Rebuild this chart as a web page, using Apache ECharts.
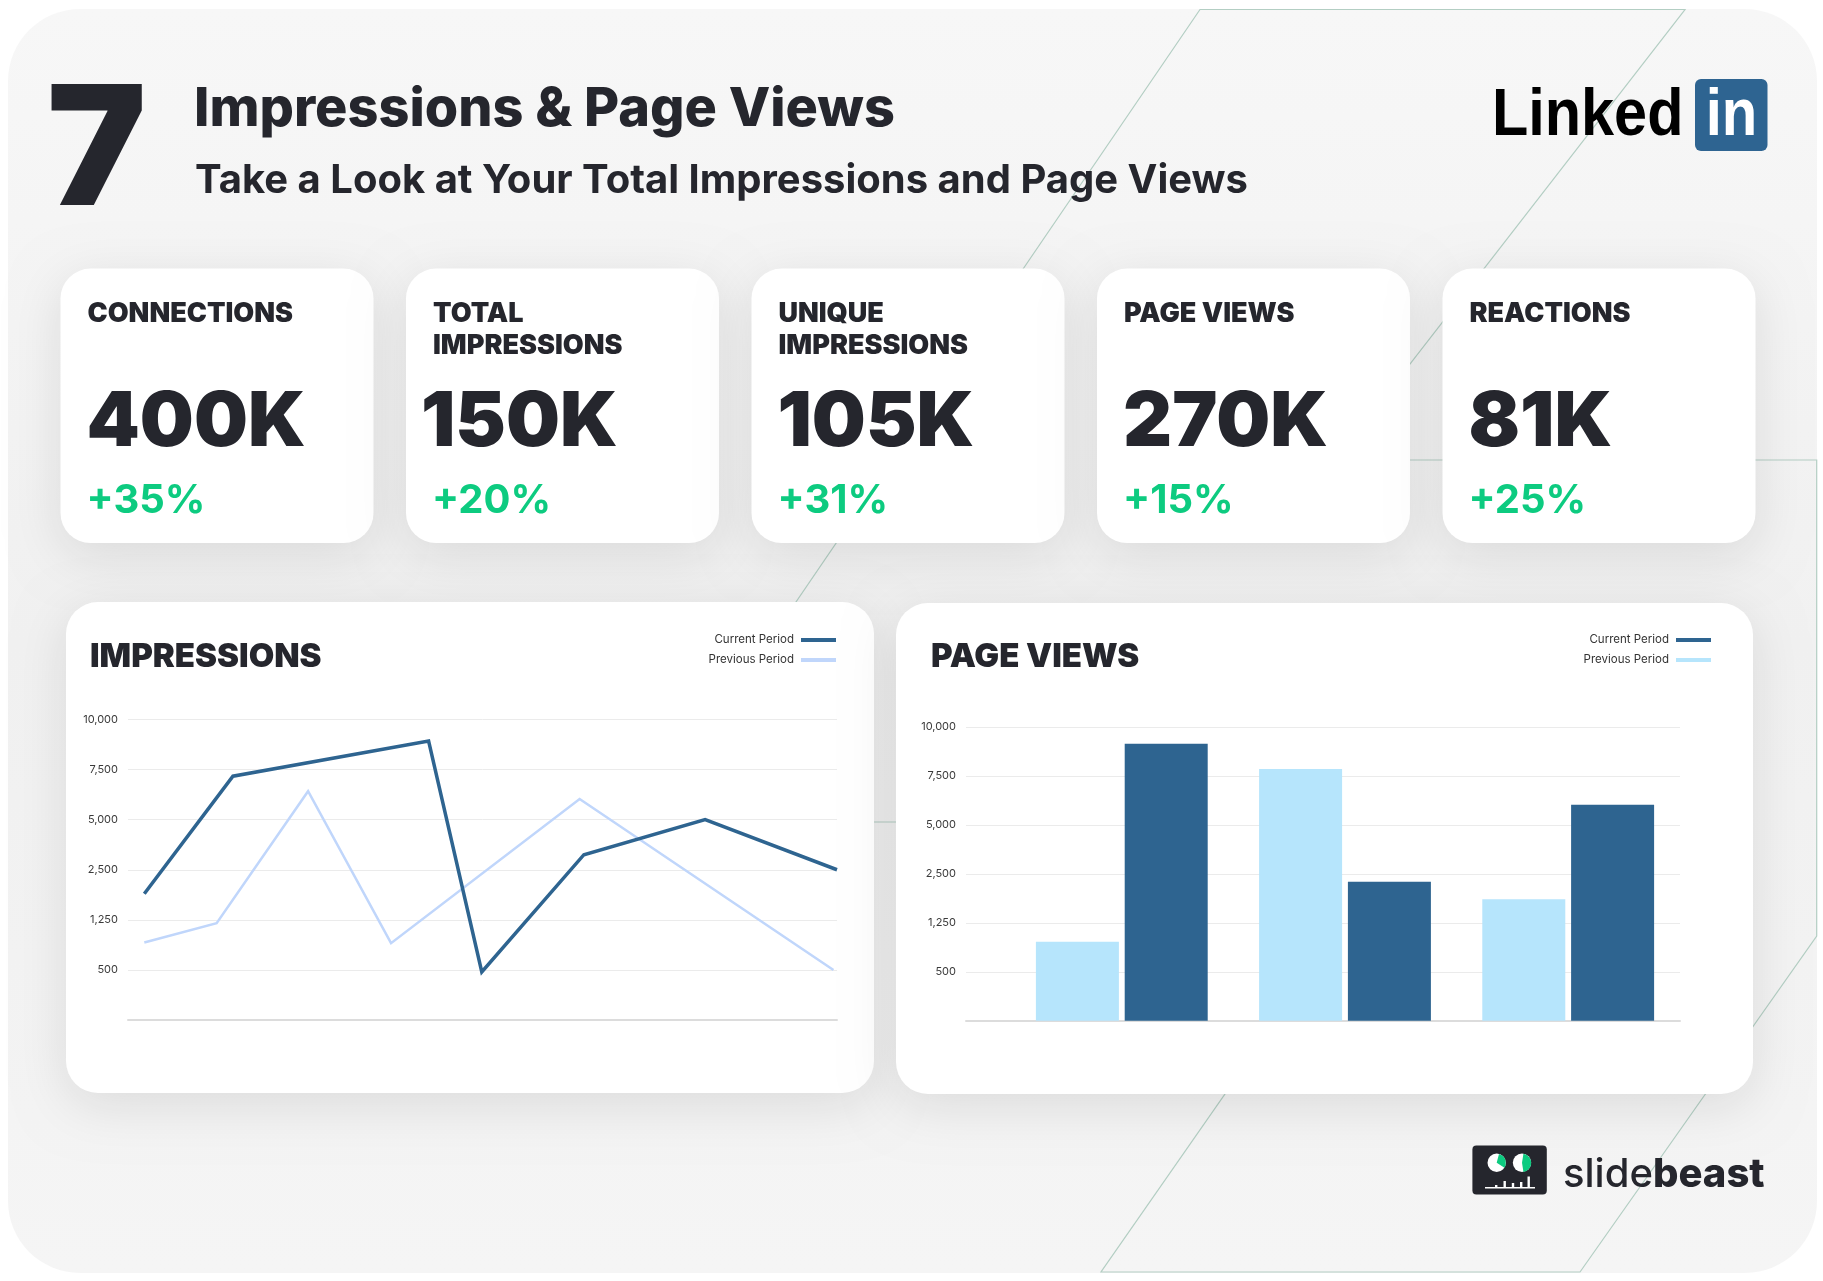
<!DOCTYPE html>
<html><head><meta charset="utf-8">
<script src="https://cdn.jsdelivr.net/npm/echarts@6/dist/echarts.min.js"></script>
<style>html,body{margin:0;padding:0;background:#ffffff}#c{width:1823px;height:1281px}</style>
</head><body><div id="c"></div>
<script>
// ---------- DATA ----------
const kpiLabels = ['CONNECTIONS', 'TOTAL\nIMPRESSIONS', 'UNIQUE\nIMPRESSIONS', 'PAGE VIEWS', 'REACTIONS'];
const kpiValues = ['400K', '150K', '105K', '270K', '81K'];
const kpiChanges = ['+35%', '+20%', '+31%', '+15%', '+25%'];

// y axis tick values (evenly spaced on the chart although not linear)
const yTickValues = [0, 500, 1250, 2500, 5000, 7500, 10000];
const yTickLabels = ['', '500', '1,250', '2,500', '5,000', '7,500', '10,000'];

// Impressions: position within the period (0-100) and value
const impCurrentX = [2.3, 14.8, 42.4, 49.9, 64.3, 81.4, 100];
const impCurrent = [1900, 7170, 8920, 480, 3250, 5000, 2500];
const impPreviousX = [2.3, 12.5, 25.4, 37.1, 63.7, 99.5];
const impPrevious = [910, 1200, 6420, 900, 6030, 500];

// Page views
const pvCategories = ['Period 1', 'Period 2', 'Period 3'];
const pvPrevious = [960, 7860, 1850];
const pvCurrent = [9140, 2300, 6030];

const seriesNames = ['Current Period', 'Previous Period'];

// ---------- LAYOUT ----------
const VALUE_INDENT = [26, 15, 26, 26, 26];

// ---------- HELPERS ----------
function toPos(v) {
  for (let i = 0; i < yTickValues.length - 1; i++) {
    const a = yTickValues[i], b = yTickValues[i + 1];
    if (v <= b) return i + (v - a) / (b - a);
  }
  return yTickValues.length - 1;
}
const FONT = 'Inter, "Noto Sans", sans-serif';
const DARK = '#25262d';
const GREEN = '#0dcb80';
const BLUE = '#2e6490';
const LIGHT_LINE = '#c0d6fb';
const LIGHT_BAR = '#b6e5fc';

// y is the intended cap-centre; shift to compensate canvas 'middle' baseline
function txt(text, x, y, size, weight, fill, extra) {
  return {
    type: 'text', x: x, y: y + 0.065 * size, z: 20,
    style: Object.assign({
      text: text, fill: fill, fontSize: size, fontWeight: weight, fontFamily: FONT,
      align: 'left', verticalAlign: 'middle', textAlign: 'left', textVerticalAlign: 'middle'
    }, extra || {})
  };
}

const g = [];
// page panel
g.push({type: 'rect', z: -30, shape: {x: 8, y: 9, width: 1809, height: 1264, r: 72},
  style: {fill: {type: 'linear', x: 0, y: 0, x2: 0, y2: 1, colorStops: [
    {offset: 0, color: '#f7f7f7'}, {offset: 0.5, color: '#f1f1f1'}, {offset: 1, color: '#f5f5f5'}]}}});
// decorative outline
g.push({type: 'polygon', z: -25, shape: {points: [
  [1200, 9.5], [1685, 9.5], [1335.6, 460], [1816.7, 460], [1816.7, 936], [1580, 1272],
  [1101, 1272], [1414.5, 822], [646, 822]]},
  style: {fill: 'none', stroke: '#b3cec3', lineWidth: 1.2}});

// KPI cards
for (let i = 0; i < kpiValues.length; i++) {
  const x0 = 60.5 + i * 345.5;
  g.push({type: 'rect', z: -20, shape: {x: x0, y: 268.6, width: 313, height: 274.5, r: 30},
    style: {fill: '#ffffff', shadowBlur: 50, shadowColor: 'rgba(0,0,0,0.10)', shadowOffsetY: 12}});
  g.push({type: 'text', x: x0 + 27, y: 298.5, z: 20, style: {text: kpiLabels[i], fill: DARK, fontSize: 27,
    fontWeight: 900, fontFamily: FONT, lineHeight: 31.4, align: 'left', verticalAlign: 'top',
    textAlign: 'left', textVerticalAlign: 'top'}});
  g.push(txt(kpiValues[i], x0 + VALUE_INDENT[i], 418, 76, 900, DARK));
  g.push(txt(kpiChanges[i], x0 + 26, 498, 40, 700, GREEN));
}
// chart cards
g.push({type: 'rect', z: -20, shape: {x: 66, y: 602, width: 808, height: 491, r: 32},
  style: {fill: '#ffffff', shadowBlur: 50, shadowColor: 'rgba(0,0,0,0.10)', shadowOffsetY: 12}});
g.push({type: 'rect', z: -20, shape: {x: 896, y: 603, width: 857, height: 491, r: 32},
  style: {fill: '#ffffff', shadowBlur: 50, shadowColor: 'rgba(0,0,0,0.10)', shadowOffsetY: 12}});
g.push(txt('IMPRESSIONS', 90, 654.5, 33, 900, DARK));
g.push(txt('PAGE VIEWS', 931, 654.5, 33, 900, DARK));

// header
g.push(txt('7', 47, 143.5, 167, 900, DARK));
g.push(txt('Impressions & Page Views', 194, 106.5, 54, 800, DARK));
g.push(txt('Take a Look at Your Total Impressions and Page Views', 195, 178.5, 40, 700, DARK));

// LinkedIn logo
g.push({type: 'text', x: 1492, y: 117, z: 20, scaleX: 0.9, originX: 0, originY: 0,
  style: {text: 'Linked', fill: '#000000', fontSize: 66, fontWeight: 700, fontFamily: '"Liberation Sans", Arial, sans-serif',
    align: 'left', verticalAlign: 'middle', textAlign: 'left', textVerticalAlign: 'middle'}});
g.push({type: 'rect', z: 20, shape: {x: 1695, y: 79, width: 72.5, height: 72, r: 6}, style: {fill: '#2e6491'}});
g.push({type: 'text', x: 1731.5, y: 117, z: 21, scaleX: 0.88, originX: 0, originY: 0,
  style: {text: 'in', fill: '#ffffff', fontSize: 66, fontWeight: 700, fontFamily: '"Liberation Sans", Arial, sans-serif',
    align: 'center', verticalAlign: 'middle', textAlign: 'center', textVerticalAlign: 'middle'}});

// slidebeast logo
g.push({type: 'rect', z: 20, shape: {x: 1472.4, y: 1145.5, width: 74.4, height: 49, r: 4}, style: {fill: DARK}});
g.push({type: 'circle', z: 21, shape: {cx: 1496.7, cy: 1162.8, r: 9.2}, style: {fill: '#ffffff'}});
g.push({type: 'circle', z: 21, shape: {cx: 1522, cy: 1162.8, r: 9.2}, style: {fill: '#ffffff'}});
g.push({type: 'sector', z: 22, shape: {cx: 1496.7, cy: 1162.8, r: 9.2, r0: 0, startAngle: -Math.PI * 0.42, endAngle: Math.PI * 0.18}, style: {fill: GREEN}});
g.push({type: 'sector', z: 22, shape: {cx: 1522, cy: 1162.8, r: 9.2, r0: 0, startAngle: -Math.PI * 0.45, endAngle: Math.PI * 0.45}, style: {fill: GREEN}});
g.push({type: 'rect', z: 21, shape: {x: 1485, y: 1187, width: 50, height: 1.4}, style: {fill: '#ffffff'}});
[[1495, 2], [1503.5, 6], [1511.8, 4], [1520, 5], [1527.5, 10.5]].forEach(function (b) {
  g.push({type: 'rect', z: 21, shape: {x: b[0], y: 1187 - b[1], width: 2.4, height: b[1]}, style: {fill: '#ffffff'}});
});
g.push({type: 'text', x: 1563, y: 1175, z: 20, style: {
  text: '{a|slide}{b|beast}', align: 'left', verticalAlign: 'middle', textAlign: 'left', textVerticalAlign: 'middle',
  rich: {a: {fontSize: 40, fontWeight: 500, fontFamily: FONT, fill: DARK, color: DARK},
         b: {fontSize: 40, fontWeight: 800, fontFamily: FONT, fill: DARK, color: DARK}}}});

// ---------- CHART ----------
const axisLabelStyle = {fontSize: 11, color: '#3a3a3a', fontFamily: FONT, margin: 10,
  formatter: function (v) { return yTickLabels[Math.round(v)] || ''; }};

function legendItem(name, color, right, top) {
  return {show: true, right: right, top: top, padding: 0, orient: 'horizontal', align: 'right',
    icon: 'rect', itemWidth: 35, itemHeight: 4, itemGap: 6, selectedMode: false,
    textStyle: {fontSize: 11.5, color: '#333333', fontFamily: FONT, padding: [0, 2, 0, 0]},
    data: [{name: name, icon: 'rect', itemStyle: {color: color, borderWidth: 0}, lineStyle: {color: color}}]};
}

const option = {
  animation: false,
  backgroundColor: '#ffffff',
  graphic: {elements: g},
  legend: [
    legendItem(seriesNames[0], BLUE, 1823 - 836, 634),
    legendItem(seriesNames[1], LIGHT_LINE, 1823 - 836, 654),
    legendItem(seriesNames[0], BLUE, 1823 - 1711, 634),
    legendItem(seriesNames[1], LIGHT_BAR, 1823 - 1711, 654)
  ],
  grid: [
    {left: 128, top: 719.5, width: 709, height: 300.5},
    {left: 966, top: 727, width: 714, height: 293.7},
    {left: 1010.2, top: 727, width: 669.6, height: 293.7}
  ],
  xAxis: [
    {gridIndex: 0, type: 'value', min: 0, max: 100, axisLine: {show: true, lineStyle: {color: '#dcdcdc', width: 2}},
      axisTick: {show: false}, axisLabel: {show: false}, splitLine: {show: false}},
    {gridIndex: 1, type: 'value', min: 0, max: 1, axisLine: {show: true, lineStyle: {color: '#dcdcdc', width: 2}},
      axisTick: {show: false}, axisLabel: {show: false}, splitLine: {show: false}},
    {gridIndex: 2, type: 'category', data: pvCategories, axisLine: {show: false}, axisTick: {show: false},
      axisLabel: {show: false}, splitLine: {show: false}}
  ],
  yAxis: [
    {gridIndex: 0, type: 'value', min: 0, max: 6, interval: 1, axisLine: {show: false}, axisTick: {show: false},
      axisLabel: axisLabelStyle, splitLine: {lineStyle: {color: '#ebebeb', width: 1}}},
    {gridIndex: 1, type: 'value', min: 0, max: 6, interval: 1, axisLine: {show: false}, axisTick: {show: false},
      axisLabel: axisLabelStyle, splitLine: {lineStyle: {color: '#ebebeb', width: 1}}},
    {gridIndex: 2, type: 'value', min: 0, max: 6, interval: 1, show: false, splitLine: {show: false}}
  ],
  series: [
    {name: seriesNames[1], type: 'line', xAxisIndex: 0, yAxisIndex: 0, symbol: 'none', z: 3,
      data: impPreviousX.map(function (x, i) { return [x, toPos(impPrevious[i])]; }),
      lineStyle: {color: LIGHT_LINE, width: 2.5, join: 'miter'}, itemStyle: {color: LIGHT_LINE}},
    {name: seriesNames[0], type: 'line', xAxisIndex: 0, yAxisIndex: 0, symbol: 'none', z: 4,
      data: impCurrentX.map(function (x, i) { return [x, toPos(impCurrent[i])]; }),
      lineStyle: {color: BLUE, width: 3.5, join: 'miter'}, itemStyle: {color: BLUE}},
    {name: seriesNames[1], type: 'bar', xAxisIndex: 2, yAxisIndex: 2, barWidth: 83, barGap: '7%',
      data: pvPrevious.map(toPos), itemStyle: {color: LIGHT_BAR}},
    {name: seriesNames[0], type: 'bar', xAxisIndex: 2, yAxisIndex: 2, barWidth: 83, barGap: '7%',
      data: pvCurrent.map(toPos), itemStyle: {color: BLUE}}
  ]
};
const chart = echarts.init(document.getElementById('c'), null, {renderer: 'canvas'});
chart.setOption(option);
</script></body></html>
